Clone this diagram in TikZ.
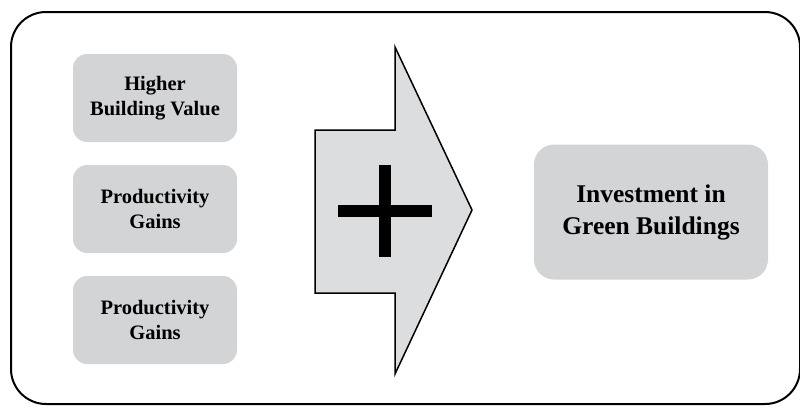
\documentclass[tikz,border=0pt]{standalone}
\usepackage{fontspec}
\setmainfont{Liberation Serif}
\begin{document}
\begin{tikzpicture}[x=1pt,y=-1pt,
  smallbox/.style={fill=boxgray,rounded corners=14pt,align=center,font=\fontsize{20.5}{25}\selectfont\bfseries,inner sep=0pt},
  bigbox/.style={fill=boxgray,rounded corners=20pt,align=center,font=\fontsize{25.5}{32}\selectfont\bfseries,inner sep=0pt}]
\definecolor{boxgray}{HTML}{D3D4D6}
\definecolor{arrowgray}{HTML}{DCDDDF}
\useasboundingbox (0,0) rectangle (800,408);
\draw[line width=2pt,rounded corners=35pt] (11,12) rectangle (800,404);
\node[smallbox,minimum width=164pt,minimum height=88pt] (a) at (155,98) {Higher\\Building Value};
\node[smallbox,minimum width=164pt,minimum height=88pt] (b) at (155,209) {Productivity\\Gains};
\node[smallbox,minimum width=164pt,minimum height=88pt] (c) at (155,320) {Productivity\\Gains};
\draw[line width=1.5pt,fill=arrowgray,line join=miter] (315,130) -- (395,130) -- (395,47) -- (472,210) -- (395,374) -- (395,293) -- (315,293) -- cycle;
\coordinate (plus) at (385,211);
\fill (338,205) rectangle (432,217);
\fill (379,165) rectangle (391,257);
\node[bigbox,minimum width=234pt,minimum height=135pt] (d) at (651,212) {Investment in\\Green Buildings};
\end{tikzpicture}
\end{document}
